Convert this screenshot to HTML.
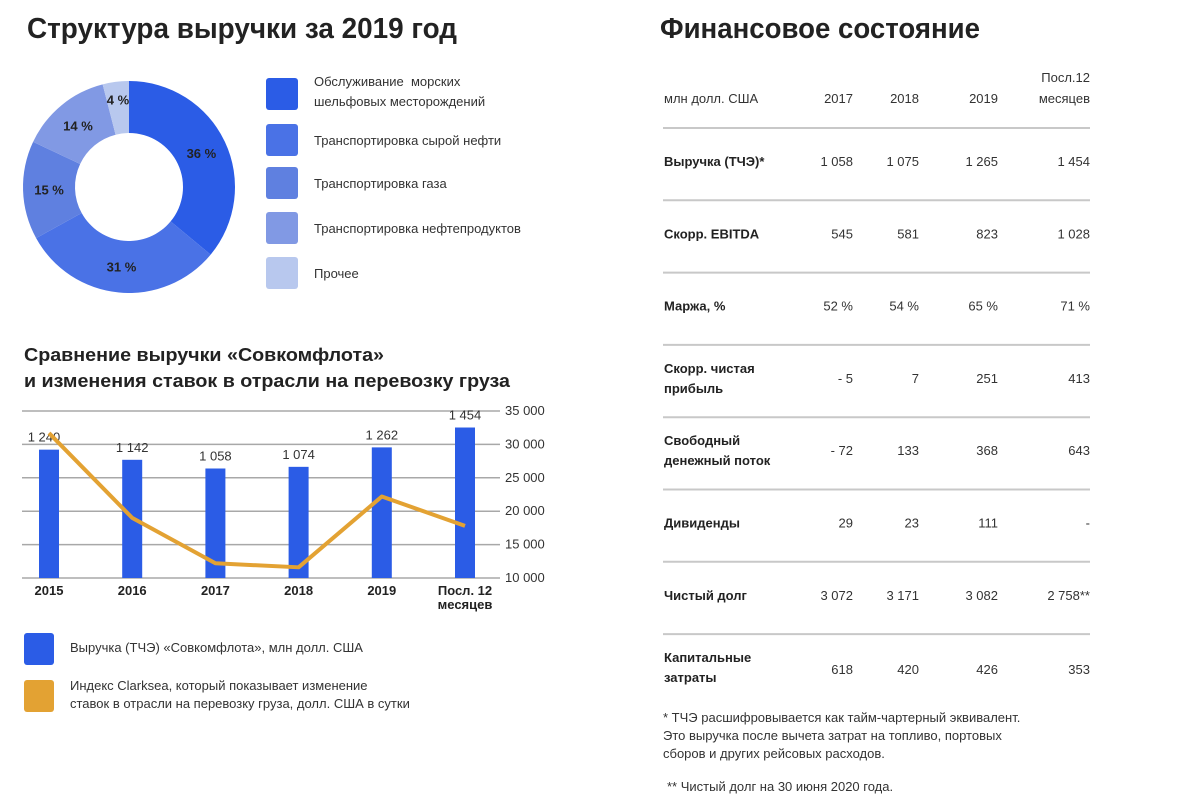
<!DOCTYPE html>
<html><head><meta charset="utf-8">
<style>
body{margin:0;background:#fff;width:1200px;height:802px;overflow:hidden}
svg{display:block;font-family:"Liberation Sans","Noto Sans CJK SC",sans-serif}
.t{fill:#222;font-weight:bold}
.s{fill:#333;font-size:13px;white-space:pre}
.b{fill:#222;font-size:13px;font-weight:bold}
</style></head><body>
<svg id="root" width="1200" height="802" viewBox="0 0 1200 802">
<text x="27" y="38" class="t" font-size="29" textLength="430" lengthAdjust="spacingAndGlyphs">Структура выручки за 2019 год</text>
<text x="660" y="38" class="t" font-size="29" textLength="320" lengthAdjust="spacingAndGlyphs">Финансовое состояние</text>
<g id="donut"></g>
<g id="legend"></g>
<text x="24" y="361" class="t" font-size="18" textLength="360" lengthAdjust="spacingAndGlyphs">Сравнение выручки «Совкомфлота»</text>
<text x="24" y="387" class="t" font-size="18" textLength="486" lengthAdjust="spacingAndGlyphs">и изменения ставок в отрасли на перевозку груза</text>
<g id="combo"></g>
<rect x="24" y="633" width="30" height="32" rx="3" fill="#2b5ce6"/>
<text x="70" y="652" class="s">Выручка (ТЧЭ) «Совкомфлота», млн долл. США</text>
<rect x="24" y="680" width="30" height="32" rx="3" fill="#e3a233"/>
<text x="70" y="690" class="s">Индекс Clarksea, который показывает изменение</text>
<text x="70" y="708" class="s">ставок в отрасли на перевозку груза, долл. США в сутки</text>
<g id="table"></g>
<text x="663" y="722" class="s">* ТЧЭ расшифровывается как тайм-чартерный эквивалент.</text>
<text x="663" y="740" class="s">Это выручка после вычета затрат на топливо, портовых</text>
<text x="663" y="758" class="s">сборов и других рейсовых расходов.</text>
<text x="667" y="791" class="s">** Чистый долг на 30 июня 2020 года.</text>
</svg>
<script>
const NS="http://www.w3.org/2000/svg";
function mk(p,tag,at,txt){const e=document.createElementNS(NS,tag);for(const k in at)e.setAttribute(k,at[k]);if(txt!=null)e.textContent=txt;p.appendChild(e);return e;}
// Donut data
const shareLabels=["Обслуживание  морских|шельфовых месторождений","Транспортировка сырой нефти","Транспортировка газа","Транспортировка нефтепродуктов","Прочее"];
const shareValues=[36,31,15,14,4];
const shareColors=["#2b5ce6","#4a72e6","#5f80e0","#8199e4","#b8c8ee"];
// Combo chart data
const years=["2015","2016","2017","2018","2019","Посл. 12|месяцев"];
const revenue=[1240,1142,1058,1074,1262,1454];
const clarksea=[31700,19000,12200,11600,22200,17800];
const yTicks=[10000,15000,20000,25000,30000,35000];
// Table data
const tableHeads=["2017","2018","2019"];
const rowLabels=[["Выручка (ТЧЭ)*"],["Скорр. EBITDA"],["Маржа, %"],["Скорр. чистая","прибыль"],["Свободный","денежный поток"],["Дивиденды"],["Чистый долг"],["Капитальные","затраты"]];
const cellValues=[["1 058","1 075","1 265","1 454"],["545","581","823","1 028"],["52 %","54 %","65 %","71 %"],["- 5","7","251","413"],["- 72","133","368","643"],["29","23","111","-"],["3 072","3 171","3 082","2 758**"],["618","420","426","353"]];
const fmt=v=>String(v).replace(/\B(?=(\d{3})+(?!\d))/g,' ');

(function(){
const dg=document.getElementById('donut');
const lgG=document.getElementById('legend');
const cx=129,cy=187,R=106,r=54;
let acc=0;const tot=shareValues.reduce((a,b)=>a+b,0);
shareValues.forEach((v,i)=>{
 const a0=acc/tot*2*Math.PI,a1=(acc+v)/tot*2*Math.PI;acc+=v;
 const P=(rad,a)=>[cx+rad*Math.sin(a),cy-rad*Math.cos(a)];
 const [x0,y0]=P(R,a0),[x1,y1]=P(R,a1),[x2,y2]=P(r,a1),[x3,y3]=P(r,a0);
 const lg=(a1-a0)>Math.PI?1:0;
 const s=mk(dg,'path',{d:`M${x0},${y0}A${R},${R} 0 ${lg} 1 ${x1},${y1}L${x2},${y2}A${r},${r} 0 ${lg} 0 ${x3},${y3}Z`,fill:shareColors[i]});
 
 
 const am=(a0+a1)/2,[lx,ly]=P(v<5?88:80,am);
 const t=mk(dg,'text',{x:lx,y:ly+5,'text-anchor':'middle',class:'b'},v+' %');
 
 
 const yy=[78,124,167,212,257][i];
 const sw=mk(lgG,'rect',{x:266,y:yy,width:32,height:32,rx:3,fill:shareColors[i]});
 
 
 const parts=shareLabels[i].split('|');
 parts.forEach((p,j)=>{const tt=mk(lgG,'text',{x:314,y:yy+(parts.length>1?8+j*20:21),class:'s'},p);
 
 });
});

const cg=document.getElementById('combo');
const x0c=22,x1c=500,baseY=578,topY=411;
const yR=v=>baseY-(v-10000)/25000*(baseY-topY);
const yB=v=>baseY-v*0.1035;
const xC=i=>49+i*83.2;
yTicks.forEach(v=>{const l=mk(cg,'line',{x1:x0c,x2:x1c,y1:yR(v),y2:yR(v),stroke:'#a8a8a8','stroke-width':1.5});
 
 
 const t=mk(cg,'text',{x:505,y:yR(v)+4,class:'s','font-size':'11'},fmt(v));
 
 });
revenue.forEach((v,i)=>{
 const b=mk(cg,'rect',{x:xC(i)-10,y:yB(v),width:20,height:baseY-yB(v),fill:'#2b5ce6'});
 
 
 const t=mk(cg,'text',{x:xC(i)-(i==0?5:0),y:yB(v)-8,'text-anchor':'middle',class:'s','font-size':'10'},fmt(v));
 
 
 years[i].split('|').forEach((p,j)=>{const tx=mk(cg,'text',{x:xC(i),y:595+j*14,'text-anchor':'middle',class:'b','font-size':'10'},p);
 
 });
});
const ln=mk(cg,'polyline',{points:clarksea.map((v,i)=>xC(i)+','+yR(v)).join(' '),fill:'none',stroke:'#e3a233','stroke-width':4,'stroke-linejoin':'round'});



const tg=document.getElementById('table');
const colX=[853,919,998,1090];
const h=mk(tg,'text',{x:664,y:103,class:'s','font-size':'12'},'млн долл. США');


tableHeads.forEach((s,i)=>{const e=mk(tg,'text',{x:colX[i],y:103,'text-anchor':'end',class:'s'},s);
 
 });
[["Посл.12",82],["месяцев",103]].forEach(([s,y])=>{const e=mk(tg,'text',{x:1090,y:y,'text-anchor':'end',class:'s','font-size':'12'},s);
 
 });
rowLabels.forEach((r,i)=>{
 const ly=128+i*72.3;
 const l=mk(tg,'line',{x1:663,x2:1090,y1:ly,y2:ly,stroke:'#c8c8c8','stroke-width':2});
 
 
 const cyR=ly+38;
 r.forEach((s,j)=>{const e=mk(tg,'text',{x:664,y:cyR+(r.length>1?(j?10:-10):0),class:'b'},s);
 
 });
 cellValues[i].forEach((s,j)=>{const e=mk(tg,'text',{x:colX[j],y:cyR+(i==7?2:0),'text-anchor':'end',class:'s'},s);
 
 });
});
})();
</script>
</body></html>
